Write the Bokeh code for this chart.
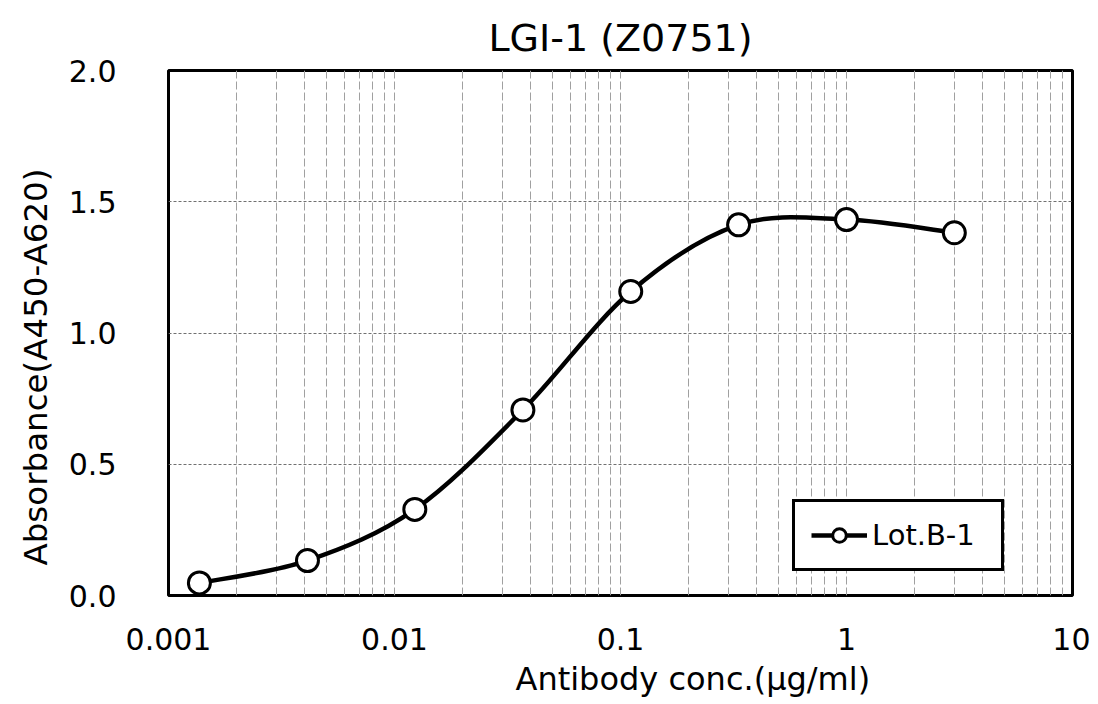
import numpy as np
from bokeh.plotting import figure
from bokeh.models import Range1d, FixedTicker, Legend, LegendItem, Title
from bokeh.embed import file_html
from bokeh.resources import INLINE

# ---- data ----
conc = [0.00137, 0.00412, 0.0123, 0.037, 0.111, 0.333, 1.0, 3.0]
absorbance = [0.048, 0.133, 0.328, 0.707, 1.158, 1.412, 1.432, 1.382]
series_name = "Lot.B-1"
title_text = "LGI-1 (Z0751)"
x_label = "Antibody conc.(μg/ml)"
y_label = "Absorbance(A450-A620)"
x_ticks = [0.001, 0.01, 0.1, 1, 10]
x_tick_labels = ["0.001", "0.01", "0.1", "1", "10"]
y_ticks = [0.0, 0.5, 1.0, 1.5, 2.0]
y_tick_labels = ["0.0", "0.5", "1.0", "1.5", "2.0"]

FONT = "DejaVu Sans"

p = figure(width=1090, height=704, x_axis_type="log",
           x_range=Range1d(x_ticks[0], x_ticks[-1]),
           y_range=Range1d(y_ticks[0], y_ticks[-1]),
           output_backend="svg", toolbar_location=None,
           min_border_left=168, min_border_right=18,
           min_border_top=70, min_border_bottom=109,
           title=title_text)

p.title.text_font = FONT
p.title.text_font_size = "38px"
p.title.text_font_style = "normal"
p.title.text_color = "black"
p.title.align = "center"
p.title.standoff = 22

p.outline_line_color = "black"
p.outline_line_width = 3
p.outline_line_alpha = 1
p.background_fill_color = "white"
p.border_fill_color = "white"

# axes
minor = [m * t for t in x_ticks[:-1] for m in range(2, 10)]
p.xaxis.ticker = FixedTicker(ticks=x_ticks, minor_ticks=minor)
p.xaxis.major_label_overrides = {t: s for t, s in zip(x_ticks, x_tick_labels)}
p.yaxis.ticker = FixedTicker(ticks=y_ticks)
p.yaxis.major_label_overrides = {t: s for t, s in zip(y_ticks, y_tick_labels)}

for ax in (p.xaxis, p.yaxis):
    ax.axis_line_color = None
    ax.major_tick_line_color = None
    ax.minor_tick_line_color = None
    ax.major_label_text_font = FONT
    ax.major_label_text_font_size = "30px"
    ax.major_label_text_color = "black"

p.xaxis.major_label_standoff = 26
p.yaxis.major_label_standoff = 46

# axis titles (placed like the reference, off-centre)
p.add_layout(Title(text=y_label, align="left", offset=30, standoff=22,
                   text_font=FONT, text_font_size="32.5px",
                   text_font_style="normal", text_color="black"), "left")
p.add_layout(Title(text=x_label, align="left", offset=347, standoff=11,
                   text_font=FONT, text_font_size="32px",
                   text_font_style="normal", text_color="black"), "below")

# grids
p.xgrid.grid_line_color = "#a0a0a0"
p.xgrid.grid_line_width = 1
p.xgrid.grid_line_dash = "8 3"
p.xgrid.minor_grid_line_color = "#a0a0a0"
p.xgrid.minor_grid_line_width = 1
p.xgrid.minor_grid_line_dash = "8 3"
p.ygrid.grid_line_color = "#707070"
p.ygrid.grid_line_width = 1
p.ygrid.grid_line_dash = "3 2"

# smooth curve (uniform Catmull-Rom -> cubic Bezier, in log-x space)
lx = np.log10(np.array(conc))
ly = np.array(absorbance)
n = len(lx)
x0, y0, x1, y1, cx0, cy0, cx1, cy1 = ([] for _ in range(8))
for i in range(n - 1):
    i0 = max(i - 1, 0)
    i3 = min(i + 2, n - 1)
    x0.append(10 ** lx[i]); y0.append(ly[i])
    x1.append(10 ** lx[i + 1]); y1.append(ly[i + 1])
    cx0.append(10 ** (lx[i] + (lx[i + 1] - lx[i0]) / 6)); cy0.append(ly[i] + (ly[i + 1] - ly[i0]) / 6)
    cx1.append(10 ** (lx[i + 1] - (lx[i3] - lx[i]) / 6)); cy1.append(ly[i + 1] - (ly[i3] - ly[i]) / 6)

bez = p.bezier(x0=x0, y0=y0, x1=x1, y1=y1, cx0=cx0, cy0=cy0, cx1=cx1, cy1=cy1,
               line_color="black", line_width=4.5)
pts = p.scatter(conc, absorbance, size=22, marker="circle",
                fill_color="white", line_color="black", line_width=3)

legend = Legend(items=[LegendItem(label=series_name, renderers=[bez, pts])],
                location=(624, 24), margin=0, padding=16,
                glyph_width=56, glyph_height=34, label_standoff=5,
                label_width=113,
                border_line_color="black", border_line_width=3,
                border_line_alpha=1,
                background_fill_color="white", background_fill_alpha=1,
                label_text_font=FONT, label_text_font_size="29px",
                label_text_color="black")
p.add_layout(legend)

open("out.html", "w").write(file_html(p, INLINE))
